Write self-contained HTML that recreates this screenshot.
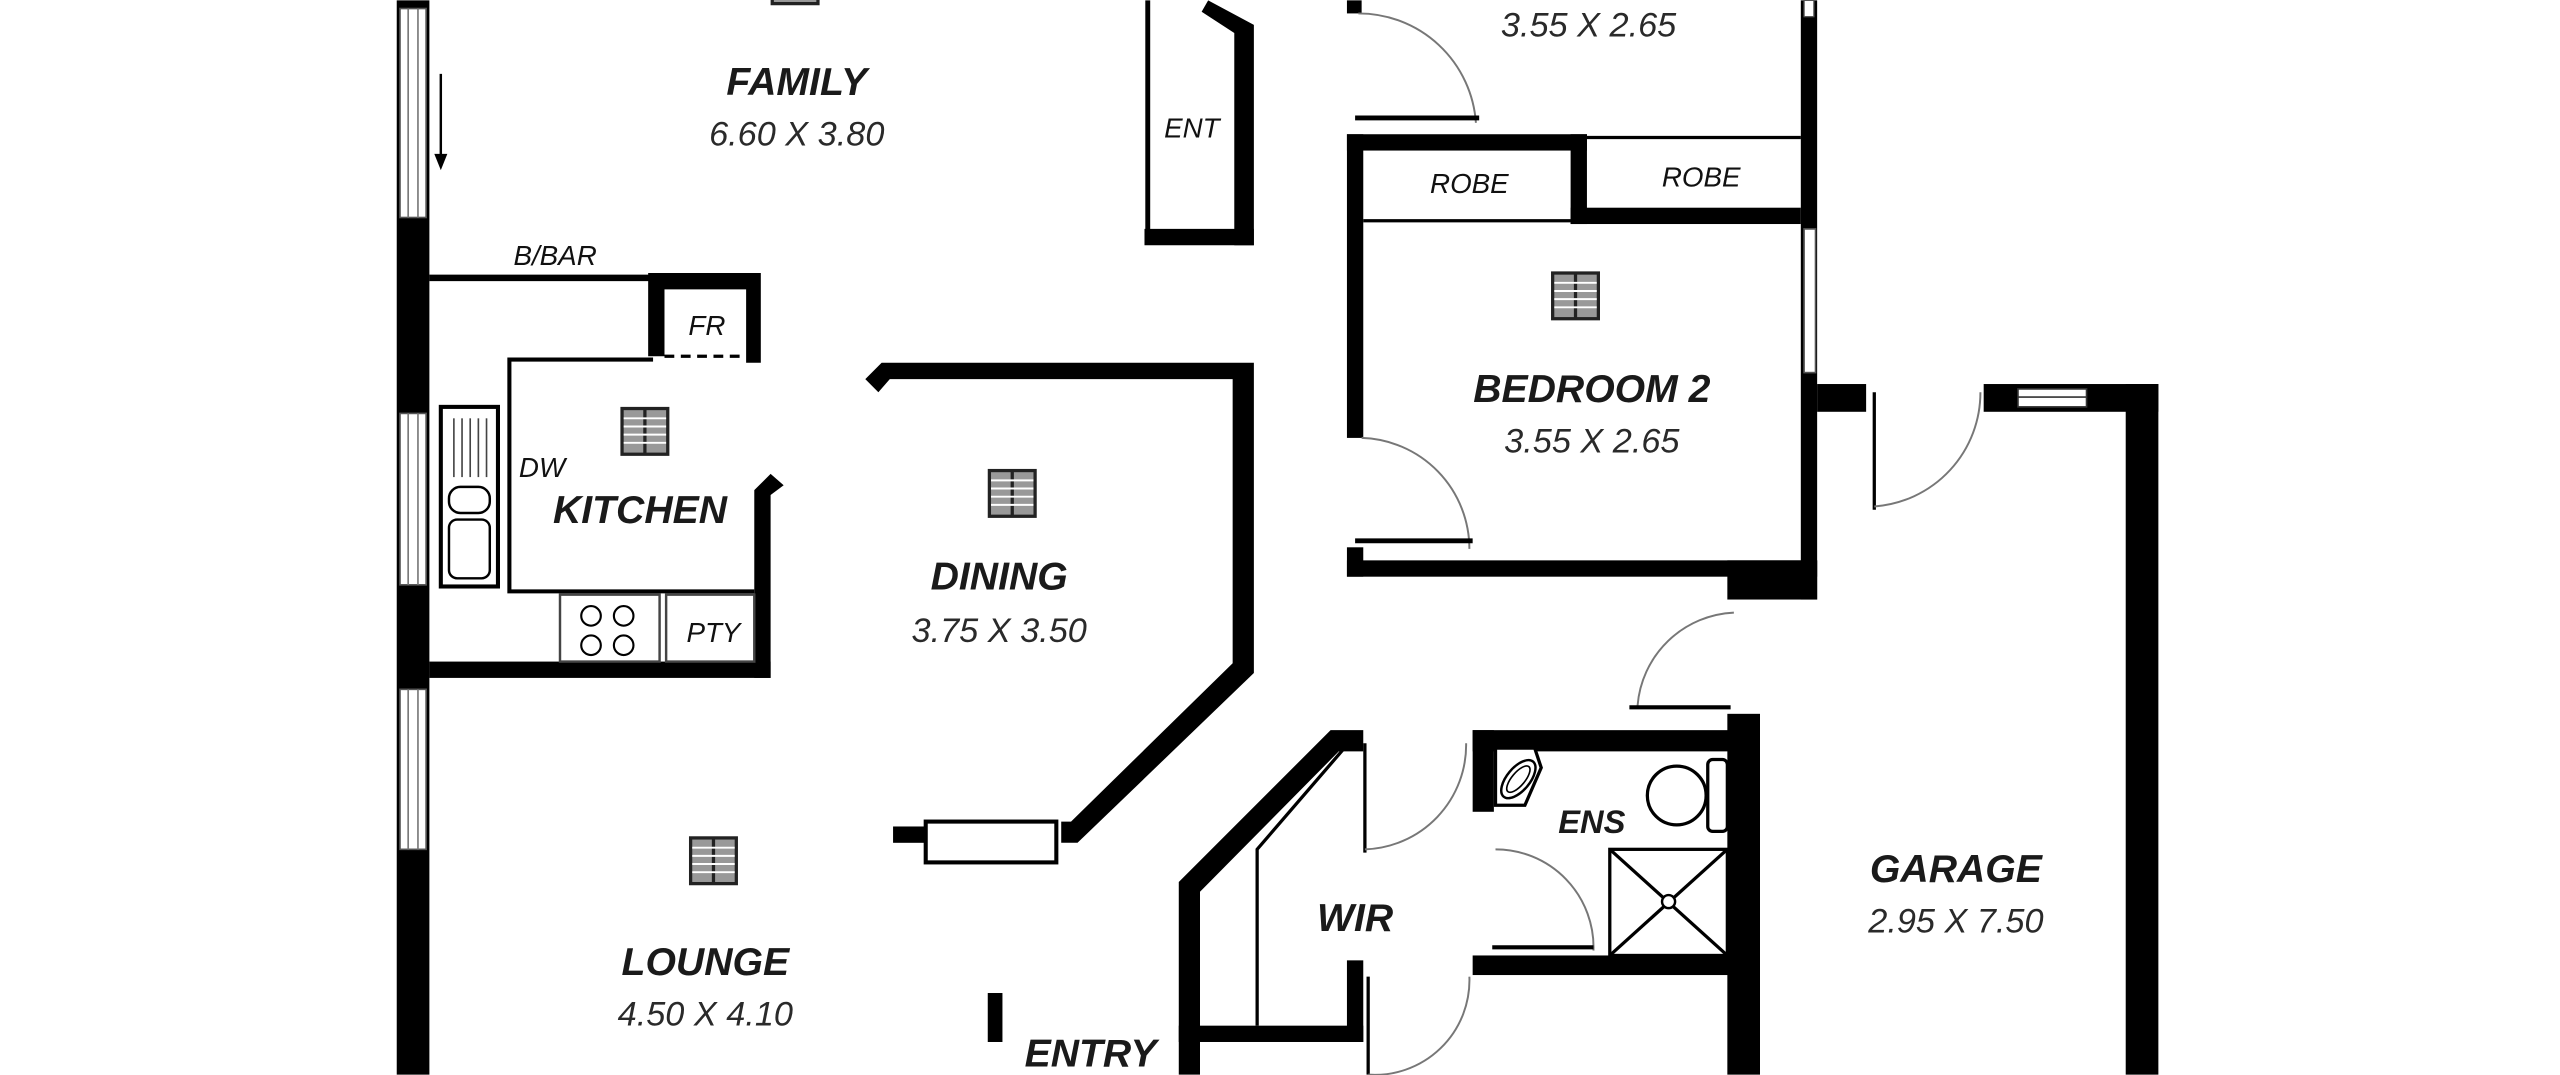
<!DOCTYPE html>
<html><head><meta charset="utf-8"><style>
html,body{margin:0;padding:0;background:#fff;width:2560px;height:1075px;overflow:hidden}
svg{display:block}
text{font-family:"Liberation Sans",Arial,sans-serif;font-style:italic;fill:#1a1a1a;text-anchor:middle}
.b{font-weight:bold;font-size:24px}
.d{font-size:21px;fill:#2a2a2a}
.s{font-size:17px;fill:#111}
</style></head><body>
<svg width="2560" height="1075" viewBox="0 0 1568 658" xmlns="http://www.w3.org/2000/svg">
<defs>
<g id="fan"><rect x="-14" y="-14" width="28" height="28" fill="#999" stroke="#222" stroke-width="2"/><line x1="0" y1="-14" x2="0" y2="14" stroke="#222" stroke-width="2"/><g stroke="#fff" stroke-width="1.2"><line x1="-13" y1="-8" x2="13" y2="-8"/><line x1="-13" y1="-3" x2="13" y2="-3"/><line x1="-13" y1="2" x2="13" y2="2"/><line x1="-13" y1="7" x2="13" y2="7"/></g></g>
</defs>
<rect width="1568" height="658" fill="#fff"/>
<rect x="243" y="0" width="20" height="658" fill="#000"/>
<g fill="#fff" stroke="#555" stroke-width="1">
<rect x="245" y="5" width="16" height="128"/>
<rect x="245" y="253" width="16" height="105"/>
<rect x="245" y="422" width="16" height="98"/>
</g>
<g stroke="#777" stroke-width="1">
<line x1="250" y1="5" x2="250" y2="133"/><line x1="256" y1="5" x2="256" y2="133"/>
<line x1="250" y1="253" x2="250" y2="358"/><line x1="256" y1="253" x2="256" y2="358"/>
<line x1="250" y1="422" x2="250" y2="520"/><line x1="256" y1="422" x2="256" y2="520"/>
</g>
<line x1="270" y1="45" x2="270" y2="98" stroke="#000" stroke-width="1.5"/>
<path d="M266 94 L270 104 L274 94 Z" fill="#000"/>
<rect x="473" y="-14" width="28" height="16" fill="#999" stroke="#222" stroke-width="2"/>
<text class="b" x="488" y="58">FAMILY</text>
<text class="d" x="488" y="89">6.60 X 3.80</text>
<path d="M703 0 V145" stroke="#000" stroke-width="3" fill="none"/>
<path d="M701 140 H768 V150 H701 Z" fill="#000"/>
<path d="M740 0 L768 15 V150 H756 V20 L736 7 Z" fill="#000"/>
<text class="s" x="730" y="84">ENT</text>
<rect x="825" y="0" width="9" height="8" fill="#000"/>
<path d="M832 8 A72 72 0 0 1 904 75" stroke="#777" stroke-width="1.2" fill="none"/>
<line x1="830" y1="72" x2="906" y2="72" stroke="#000" stroke-width="3"/>
<text class="d" x="973" y="22">3.55 X 2.65</text>
<rect x="1103" y="0" width="10" height="367" fill="#000"/>
<rect x="1105" y="0" width="6" height="10" fill="#fff" stroke="#555" stroke-width="0.8"/>
<g fill="#000">
<rect x="825" y="82" width="147" height="10"/>
<rect x="825" y="82" width="10" height="186"/>
<rect x="962" y="82" width="10" height="55"/>
<rect x="962" y="127" width="141" height="10"/>
<rect x="825" y="335" width="10" height="18"/>
<rect x="825" y="343" width="288" height="10"/>
<rect x="1058" y="343" width="55" height="24"/>
</g>
<line x1="972" y1="84" x2="1103" y2="84" stroke="#000" stroke-width="2"/>
<line x1="835" y1="135" x2="962" y2="135" stroke="#000" stroke-width="2"/>
<text class="s" x="900" y="118">ROBE</text>
<text class="s" x="1042" y="114">ROBE</text>
<rect x="1105" y="140" width="7" height="88" fill="#fff" stroke="#555" stroke-width="1"/>
<use href="#fan" x="965" y="181"/>
<text class="b" x="975" y="246">BEDROOM 2</text>
<text class="d" x="975" y="277">3.55 X 2.65</text>
<path d="M834 268 A68 68 0 0 1 900 336" stroke="#777" stroke-width="1.2" fill="none"/>
<line x1="830" y1="331" x2="902" y2="331" stroke="#000" stroke-width="3"/>
<rect x="1113" y="235" width="30" height="17" fill="#000"/>
<line x1="1148" y1="240" x2="1148" y2="312" stroke="#000" stroke-width="2"/>
<path d="M1148 310 A70 70 0 0 0 1213 240" stroke="#777" stroke-width="1.2" fill="none"/>
<rect x="1215" y="235" width="107" height="17" fill="#000"/>
<rect x="1236" y="238" width="42" height="11" fill="#fff" stroke="#333" stroke-width="1"/>
<line x1="1236" y1="243" x2="1278" y2="243" stroke="#333" stroke-width="1"/>
<rect x="1302" y="235" width="20" height="423" fill="#000"/>
<rect x="1058" y="437" width="20" height="221" fill="#000"/>
<path d="M1003 432 A62 62 0 0 1 1062 375" stroke="#777" stroke-width="1.2" fill="none"/>
<line x1="998" y1="433" x2="1060" y2="433" stroke="#000" stroke-width="2.5"/>
<text class="b" x="1198" y="540">GARAGE</text>
<text class="d" x="1198" y="571">2.95 X 7.50</text>
<g fill="#000">
<rect x="902" y="447" width="160" height="13"/>
<rect x="902" y="447" width="13" height="50"/>
<rect x="902" y="585" width="160" height="12"/>
</g>
<path d="M916 458 H940 L944 470 L934 493 H916 Z" fill="#fff" stroke="#000" stroke-width="2"/>
<ellipse cx="930" cy="477" rx="7" ry="14" transform="rotate(40 930 477)" fill="none" stroke="#000" stroke-width="1.5"/>
<ellipse cx="930" cy="477" rx="4" ry="10" transform="rotate(40 930 477)" fill="none" stroke="#000" stroke-width="1"/>
<circle cx="1027" cy="487" r="18" fill="#fff" stroke="#000" stroke-width="2"/>
<rect x="1046" y="465" width="12" height="44" rx="3" fill="#fff" stroke="#000" stroke-width="2"/>
<text class="b" x="975" y="510" style="font-size:20px">ENS</text>
<rect x="986" y="520" width="72" height="65" fill="#fff" stroke="#000" stroke-width="2"/>
<line x1="986" y1="520" x2="1058" y2="585" stroke="#000" stroke-width="2"/>
<line x1="1058" y1="520" x2="986" y2="585" stroke="#000" stroke-width="2"/>
<circle cx="1022" cy="552" r="4" fill="#fff" stroke="#000" stroke-width="1.5"/>
<path d="M916 520 A60 60 0 0 1 976 582" stroke="#777" stroke-width="1.2" fill="none"/>
<line x1="914" y1="580" x2="976" y2="580" stroke="#000" stroke-width="2.5"/>
<path d="M835 447 H815 L722 540 V658 H735 V546 L820 460 H835 Z" fill="#000"/>
<path d="M826 455 L770 520 V628" stroke="#000" stroke-width="2" fill="none"/>
<rect x="722" y="628" width="113" height="10" fill="#000"/>
<rect x="825" y="588" width="10" height="50" fill="#000"/>
<line x1="836" y1="455" x2="836" y2="522" stroke="#000" stroke-width="2"/>
<path d="M836 520 A64 64 0 0 0 898 455" stroke="#777" stroke-width="1.2" fill="none"/>
<line x1="838" y1="598" x2="838" y2="658" stroke="#000" stroke-width="2"/>
<path d="M838 658 A58 58 0 0 0 900 598" stroke="#777" stroke-width="1.2" fill="none"/>
<text class="b" x="830" y="570">WIR</text>
<path d="M540 222 H768 V412 L660 516 H650 V503 L656 503 L755 406 V232 H545 L538 240 L530 232 Z" fill="#000"/>
<rect x="547" y="506" width="20" height="10" fill="#000"/>
<rect x="567" y="503" width="80" height="25" fill="#fff" stroke="#000" stroke-width="2.5"/>
<use href="#fan" x="620" y="302"/>
<text class="b" x="612" y="361">DINING</text>
<text class="d" x="612" y="393">3.75 X 3.50</text>
<line x1="263" y1="170" x2="400" y2="170" stroke="#000" stroke-width="4"/>
<text class="s" x="340" y="162">B/BAR</text>
<path d="M397 167 H466 V222 H457 V177 H407 V218 H397 Z" fill="#000"/>
<line x1="407" y1="218" x2="457" y2="218" stroke="#000" stroke-width="2" stroke-dasharray="6,4"/>
<text class="s" x="433" y="205">FR</text>
<path d="M400 220 H312 V362 H462" stroke="#000" stroke-width="2.5" fill="none"/>
<rect x="270" y="249" width="35" height="110" fill="#fff" stroke="#000" stroke-width="2.5"/>
<g stroke="#444" stroke-width="1"><line x1="278" y1="256" x2="278" y2="292"/><line x1="283" y1="256" x2="283" y2="292"/><line x1="288" y1="256" x2="288" y2="292"/><line x1="293" y1="256" x2="293" y2="292"/><line x1="298" y1="256" x2="298" y2="292"/></g>
<rect x="275" y="298" width="25" height="16" rx="7" fill="none" stroke="#000" stroke-width="1.5"/>
<rect x="275" y="318" width="25" height="36" rx="5" fill="none" stroke="#000" stroke-width="1.5"/>
<text class="s" x="332" y="292">DW</text>
<use href="#fan" x="395" y="264"/>
<text class="b" x="392" y="320">KITCHEN</text>
<path d="M462 300 L472 290 L480 297 L472 303 V415 H462 Z" fill="#000"/>
<rect x="263" y="405" width="209" height="10" fill="#000"/>
<rect x="343" y="364" width="61" height="41" fill="#fff" stroke="#444" stroke-width="1.5"/>
<g fill="none" stroke="#000" stroke-width="1.3"><circle cx="362" cy="377" r="6"/><circle cx="382" cy="377" r="6"/><circle cx="362" cy="395" r="6"/><circle cx="382" cy="395" r="6"/></g>
<rect x="408" y="364" width="54" height="41" fill="#fff" stroke="#444" stroke-width="1.5"/>
<text class="s" x="437" y="393">PTY</text>
<use href="#fan" x="437" y="527"/>
<text class="b" x="432" y="597">LOUNGE</text>
<text class="d" x="432" y="628">4.50 X 4.10</text>
<rect x="605" y="608" width="9" height="30" fill="#000"/>
<text class="b" x="668" y="653">ENTRY</text>
</svg>
</body></html>
